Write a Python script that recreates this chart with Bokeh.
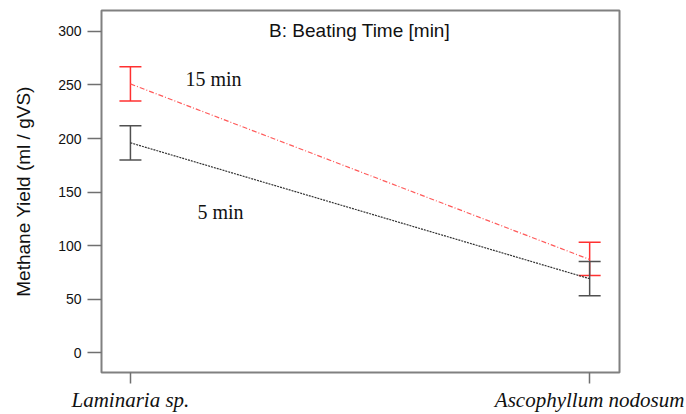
from bokeh.plotting import figure
from bokeh.models import Range1d, FixedTicker, Whisker, TeeHead, ColumnDataSource, Label
from bokeh.embed import file_html
from bokeh.resources import INLINE

categories = ["Laminaria sp.", "Ascophyllum nodosum"]
xpos = [0, 1]
mean_15 = [251, 87]
lo_15 = [235, 72]
hi_15 = [267, 103]
mean_5 = [196, 69]
lo_5 = [180, 53]
hi_5 = [212, 85]
y_ticks = [0, 50, 100, 150, 200, 250, 300]

p = figure(width=686, height=414, output_backend="svg", toolbar_location=None,
           x_range=Range1d(-0.063, 1.065), y_range=Range1d(-18.6, 319.6),
           min_border_left=101, min_border_right=67, min_border_top=10, min_border_bottom=41)
p.grid.visible = False
p.background_fill_color = "white"
p.border_fill_color = "white"
p.outline_line_color = "#808080"
p.outline_line_width = 2

# axes
p.xaxis.ticker = FixedTicker(ticks=xpos)
p.xaxis.major_label_overrides = {x: c for x, c in zip(xpos, categories)}
p.xaxis.axis_line_color = None
p.xaxis.minor_tick_line_color = None
p.xaxis.major_tick_in = 0
p.xaxis.major_tick_out = 11
p.xaxis.major_tick_line_color = "#707070"
p.xaxis.major_tick_line_width = 1.5
p.xaxis.major_label_text_font = "Liberation Serif"
p.xaxis.major_label_text_font_style = "italic"
p.xaxis.major_label_text_font_size = "21px"
p.xaxis.major_label_text_color = "#111111"
p.xaxis.major_label_standoff = 4

p.yaxis.ticker = FixedTicker(ticks=y_ticks)
p.yaxis.axis_line_color = None
p.yaxis.minor_tick_line_color = None
p.yaxis.major_tick_in = 0
p.yaxis.major_tick_out = 14
p.yaxis.major_tick_line_color = "#707070"
p.yaxis.major_tick_line_width = 1.5
p.yaxis.major_label_text_font = "Liberation Sans"
p.yaxis.major_label_text_font_size = "14px"
p.yaxis.major_label_text_color = "#111111"
p.yaxis.major_label_standoff = 6
p.yaxis.axis_label = "Methane Yield (ml / gVS)"
p.yaxis.axis_label_text_font = "Liberation Sans"
p.yaxis.axis_label_text_font_style = "normal"
p.yaxis.axis_label_text_font_size = "19px"
p.yaxis.axis_label_text_color = "#111111"
p.yaxis.axis_label_standoff = 21

src = ColumnDataSource(dict(x=xpos, m15=mean_15, lo15=lo_15, hi15=hi_15,
                            m5=mean_5, lo5=lo_5, hi5=hi_5))

# lines
p.line("x", "m15", source=src, line_color="#ff5a5a", line_width=1.2, line_dash="5 2 1 2")
p.line("x", "m5", source=src, line_color="#333333", line_width=1.2, line_dash="2 1")

# error bars
red = "#ff3030"
dark = "#505050"
p.add_layout(Whisker(source=src, base="x", upper="hi15", lower="lo15",
                     line_color=red, line_width=1.5,
                     upper_head=TeeHead(size=22, line_color=red, line_width=1.5),
                     lower_head=TeeHead(size=22, line_color=red, line_width=1.5)))
p.add_layout(Whisker(source=src, base="x", upper="hi5", lower="lo5",
                     line_color=dark, line_width=1.5,
                     upper_head=TeeHead(size=22, line_color=dark, line_width=1.5),
                     lower_head=TeeHead(size=22, line_color=dark, line_width=1.5)))

# annotations
p.add_layout(Label(x=0.499, y=301, text="B: Beating Time [min]", text_align="center",
                   text_baseline="middle", text_font="Liberation Sans",
                   text_font_size="19px", text_color="#111111"))
p.add_layout(Label(x=0.181, y=256, text="15 min", text_align="center",
                   text_baseline="middle", text_font="Liberation Serif",
                   text_font_size="20px", text_color="#111111"))
p.add_layout(Label(x=0.196, y=131, text="5 min", text_align="center",
                   text_baseline="middle", text_font="Liberation Serif",
                   text_font_size="20px", text_color="#111111"))

open("out.html", "w").write(file_html(p, INLINE))
